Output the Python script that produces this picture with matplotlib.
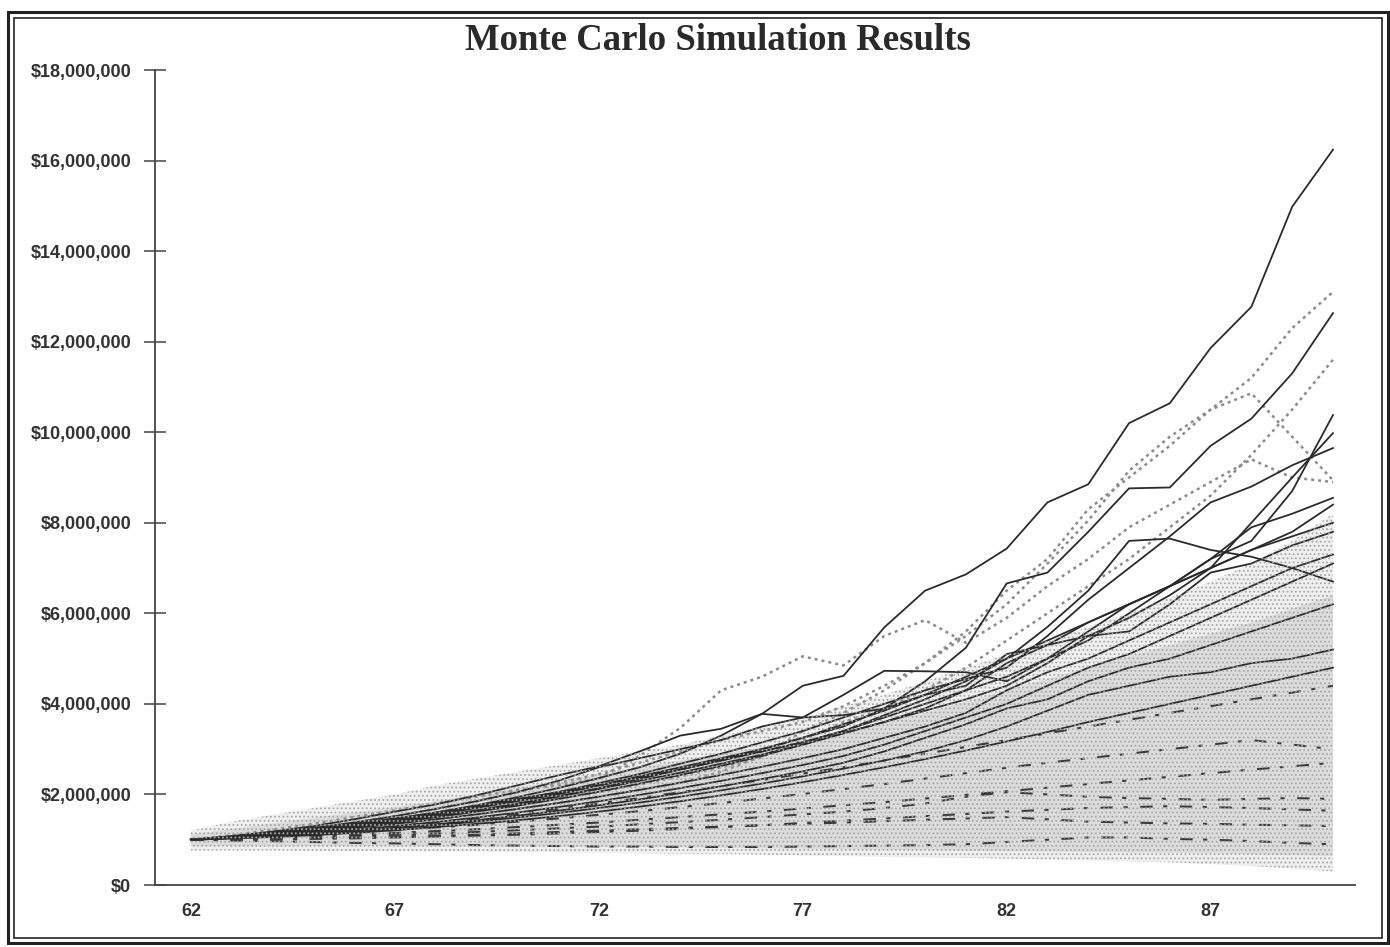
import matplotlib
matplotlib.use("Agg")
import matplotlib.pyplot as plt
from matplotlib.patches import Rectangle
from matplotlib.ticker import FuncFormatter

# ---------------- data (values in $ millions) ----------------
years = list(range(62, 91))

band_low  = [0.76,0.76,0.76,0.75,0.75,0.75,0.74,0.74,0.73,0.72,0.71,0.70,0.69,0.68,0.67,0.65,0.64,0.62,0.61,0.60,0.58,0.56,0.54,0.52,0.50,0.46,0.42,0.36,0.30]
band_high = [1.20,1.40,1.55,1.70,1.85,2.00,2.20,2.35,2.50,2.65,2.80,2.95,3.10,3.30,3.50,3.70,3.95,4.20,4.50,4.80,5.10,5.40,5.70,6.00,6.35,6.70,7.10,7.60,8.20]
core_low  = [0.86,0.86,0.86,0.86,0.86,0.86,0.85,0.85,0.85,0.85,0.84,0.84,0.83,0.82,0.81,0.80,0.79,0.78,0.77,0.76,0.75,0.74,0.73,0.72,0.71,0.70,0.68,0.66,0.64]
core_high = [1.12,1.24,1.36,1.48,1.60,1.72,1.85,2.00,2.15,2.30,2.45,2.60,2.75,2.90,3.05,3.20,3.40,3.60,3.80,4.05,4.30,4.55,4.80,5.05,5.30,5.55,5.80,6.10,6.40]

# solid dark simulation paths
sim_a = [1.00,1.08,1.18,1.30,1.45,1.62,1.78,1.98,2.20,2.42,2.62,2.95,3.30,3.45,3.78,4.40,4.62,5.69,6.50,6.86,7.43,8.45,8.85,10.20,10.64,11.86,12.77,14.98,16.24]
sim_c = [1.00,1.05,1.12,1.20,1.30,1.42,1.55,1.70,1.85,2.00,2.20,2.40,2.60,2.80,3.00,3.25,3.50,3.90,4.50,5.24,6.66,6.90,7.80,8.76,8.78,9.70,10.30,11.30,12.63]
sim_g = [1.00,1.06,1.13,1.22,1.32,1.44,1.57,1.72,1.88,2.05,2.25,2.45,2.68,2.90,3.15,3.40,3.70,4.00,4.30,4.55,4.80,5.50,6.30,7.00,7.70,8.45,8.80,9.27,9.65]
sim_f1 = [1.00,1.07,1.15,1.24,1.35,1.47,1.60,1.75,1.90,2.05,2.20,2.38,2.55,2.75,2.95,3.15,3.40,3.70,4.00,4.30,4.60,5.00,5.40,6.00,6.60,7.20,7.60,8.70,10.38]
sim_f2 = [1.00,1.05,1.11,1.18,1.27,1.38,1.50,1.63,1.78,1.95,2.12,2.30,2.48,2.68,2.88,3.10,3.35,3.60,3.85,4.10,4.40,4.90,5.50,5.90,6.40,7.00,8.00,9.00,9.98]
sim_h = [1.00,1.06,1.14,1.23,1.33,1.45,1.58,1.72,1.87,2.03,2.20,2.38,2.55,2.75,2.95,3.15,3.40,3.75,4.10,4.50,5.00,5.70,6.50,7.60,7.65,7.40,7.25,7.00,6.70]
sim_i = [1.00,1.07,1.16,1.26,1.38,1.52,1.68,1.85,2.05,2.30,2.60,2.80,3.00,3.20,3.50,3.70,4.20,4.73,4.72,4.70,4.50,5.00,5.60,6.20,6.60,7.00,7.40,7.80,8.40]
sim_j = [1.00,1.06,1.13,1.22,1.33,1.46,1.60,1.76,1.94,2.14,2.36,2.60,2.90,3.30,3.78,3.70,3.75,3.90,4.20,4.40,5.10,5.30,5.80,6.20,6.60,7.20,7.90,8.20,8.55]
sim_l = [1.00,1.05,1.11,1.18,1.26,1.35,1.45,1.56,1.68,1.81,1.95,2.10,2.26,2.43,2.61,2.80,3.00,3.25,3.50,3.80,4.30,4.70,5.00,5.40,5.80,6.20,6.60,7.00,7.30]
sim_m = [1.00,1.04,1.09,1.15,1.22,1.30,1.39,1.49,1.60,1.72,1.85,1.99,2.14,2.30,2.47,2.65,2.85,3.10,3.40,3.70,4.00,4.40,4.80,5.10,5.50,5.90,6.30,6.70,7.10]
sim_n = [1.00,1.04,1.08,1.13,1.19,1.26,1.34,1.43,1.53,1.64,1.76,1.89,2.03,2.18,2.34,2.51,2.70,2.95,3.25,3.55,3.90,4.10,4.50,4.80,5.00,5.30,5.60,5.90,6.20]
sim_o = [1.00,1.03,1.07,1.12,1.18,1.25,1.32,1.40,1.49,1.59,1.70,1.82,1.95,2.09,2.24,2.40,2.57,2.75,2.95,3.20,3.50,3.85,4.20,4.40,4.60,4.70,4.90,5.00,5.20]
sim_q = [1.00,1.03,1.06,1.10,1.15,1.21,1.28,1.35,1.43,1.52,1.62,1.73,1.85,1.98,2.12,2.27,2.43,2.60,2.78,2.97,3.17,3.38,3.60,3.80,4.00,4.20,4.40,4.60,4.80]
sim_s = [1.00,1.06,1.13,1.21,1.30,1.40,1.52,1.65,1.80,1.96,2.14,2.34,2.55,2.77,3.00,3.25,3.55,3.85,4.20,4.60,5.00,5.40,5.80,6.20,6.60,7.00,7.40,7.70,8.00]
sim_t = [1.00,1.05,1.12,1.20,1.29,1.39,1.50,1.62,1.75,1.90,2.06,2.24,2.43,2.63,2.85,3.10,3.35,3.60,3.90,4.30,4.90,5.30,5.50,5.60,6.20,6.90,7.10,7.50,7.80]

# paths inside the shaded mass (printed broken by the halftone)
sim_u  = [1.00,1.02,1.05,1.08,1.11,1.15,1.19,1.23,1.28,1.33,1.38,1.44,1.50,1.56,1.62,1.69,1.76,1.83,1.91,1.99,2.07,2.15,2.23,2.31,2.39,2.47,2.55,2.62,2.70]
sim_v  = [1.00,1.01,1.03,1.05,1.08,1.11,1.14,1.17,1.21,1.25,1.29,1.34,1.39,1.44,1.50,1.56,1.62,1.70,1.80,1.95,2.05,2.00,1.95,1.92,1.90,1.88,1.90,1.92,1.90]
sim_w  = [1.00,1.00,1.01,1.02,1.03,1.05,1.07,1.09,1.11,1.14,1.17,1.20,1.24,1.28,1.32,1.37,1.42,1.47,1.52,1.57,1.62,1.66,1.70,1.72,1.74,1.72,1.70,1.67,1.64]
sim_x  = [1.00,0.98,0.97,0.95,0.93,0.92,0.90,0.88,0.87,0.86,0.85,0.85,0.84,0.84,0.84,0.85,0.86,0.87,0.88,0.90,0.95,1.00,1.05,1.05,1.02,1.00,0.97,0.93,0.90]
sim_y  = [1.00,1.04,1.09,1.15,1.22,1.30,1.38,1.47,1.57,1.68,1.80,1.92,2.05,2.18,2.32,2.46,2.60,2.75,2.90,3.05,3.20,3.35,3.50,3.65,3.80,3.95,4.10,4.25,4.40]
sim_z  = [1.00,1.03,1.07,1.11,1.16,1.21,1.27,1.33,1.40,1.47,1.55,1.63,1.72,1.81,1.91,2.01,2.12,2.23,2.35,2.47,2.59,2.70,2.80,2.90,3.00,3.10,3.20,3.10,3.00]
sim_z2 = [1.00,1.01,1.02,1.03,1.05,1.07,1.09,1.11,1.14,1.17,1.20,1.23,1.26,1.29,1.32,1.35,1.38,1.41,1.44,1.47,1.50,1.45,1.40,1.38,1.36,1.35,1.33,1.32,1.30]

# light grey dotted paths
sim_b = [1.00,1.07,1.15,1.25,1.38,1.52,1.68,1.85,2.05,2.25,2.45,2.70,2.95,3.20,3.40,3.60,3.95,4.40,4.90,5.60,6.50,7.20,8.30,9.00,9.70,10.50,11.20,12.30,13.10]
sim_p = [1.00,1.10,1.22,1.35,1.50,1.65,1.80,1.95,2.10,2.20,2.35,2.85,3.47,4.30,4.60,5.05,4.85,5.50,5.85,5.35,5.90,6.60,7.20,7.90,8.40,8.90,9.40,9.00,8.90]
sim_d = [1.00,1.05,1.11,1.18,1.26,1.35,1.45,1.56,1.68,1.81,1.95,2.10,2.26,2.50,2.85,3.20,3.60,3.90,4.30,4.80,5.40,6.00,6.60,7.20,7.90,8.60,9.50,10.50,11.60]
sim_e = [1.00,1.06,1.13,1.21,1.30,1.40,1.51,1.63,1.76,1.90,2.05,2.22,2.40,2.60,2.82,3.40,3.80,4.30,4.90,5.50,6.20,7.10,8.05,9.15,9.90,10.50,10.86,9.90,8.94]

ytick_values = [0, 2, 4, 6, 8, 10, 12, 14, 16, 18]
xtick_values = [62, 67, 72, 77, 82, 87]

solid_paths = [sim_a, sim_c, sim_g, sim_f1, sim_f2, sim_h, sim_i, sim_j,
               sim_l, sim_m, sim_n, sim_o, sim_q, sim_s, sim_t]
inner_paths = [sim_u, sim_v, sim_w, sim_x, sim_y, sim_z, sim_z2]
dotted_paths = [sim_b, sim_p, sim_d, sim_e]

# ---------------- drawing ----------------
plt.rcParams['hatch.linewidth'] = 0.8
M = 1e6

fig = plt.figure(figsize=(13.9, 9.47), dpi=100)
ax = fig.add_axes([155/1390, 1 - 885/947, 1200/1390, 815/947])

scale = lambda arr: [v * M for v in arr]

ax.fill_between(years, scale(band_low), scale(band_high), facecolor='#efefef',
                edgecolor='none', zorder=1)
ax.fill_between(years, scale(core_low), scale(core_high), facecolor='#dcdcdc',
                edgecolor='none', zorder=1.2)

for arr in dotted_paths:
    ax.plot(years, scale(arr), color='#8c8c8c', lw=1.8,
            linestyle=(0, (1.2, 1.6)), zorder=2)
for arr in inner_paths:
    ax.plot(years, scale(arr), color='#3a3a3a', lw=1.5,
            linestyle=(0, (6, 5, 2, 6)), zorder=2.5)
for arr in solid_paths:
    ax.plot(years, scale(arr), color='#2b2b2b', lw=1.3, zorder=3)

# halftone screen printed over the simulated mass
ax.fill_between(years, scale(band_low), scale(band_high), facecolor='none',
                hatch='....', edgecolor='#a8a8a8', linewidth=0, zorder=3.5)

ax.set_xlim(61.12, 90.54)
ax.set_ylim(0, 18 * M)
ax.set_yticks([v * M for v in ytick_values])
ax.yaxis.set_major_formatter(FuncFormatter(lambda v, p: f"${v:,.0f}"))
ax.set_xticks(xtick_values)
ax.set_xticklabels([str(v) for v in xtick_values])

for s in ['top', 'right']:
    ax.spines[s].set_visible(False)
for s in ['left', 'bottom']:
    ax.spines[s].set_color('#444444')
    ax.spines[s].set_linewidth(1.3)

ax.tick_params(axis='y', direction='inout', length=16, width=1.1, color='#444444',
               pad=9, labelsize=13)
ax.tick_params(axis='x', length=0, pad=13, labelsize=13)
for lab in ax.get_xticklabels() + ax.get_yticklabels():
    lab.set_fontfamily('Liberation Sans')
    lab.set_fontweight('bold')
    lab.set_color('#333333')

fig.text(718/1390, 1 - 40/947, "Monte Carlo Simulation Results",
         ha='center', va='center', fontsize=26.5, fontweight='bold',
         family='Liberation Serif', color='#2a2a2a')

# double frame around the figure
fig.patches.append(Rectangle((8/1390, 4/947), 1380/1390, 931/947, transform=fig.transFigure,
                             fill=False, edgecolor='#222222', linewidth=2.2))
fig.patches.append(Rectangle((14/1390, 9/947), 1368/1390, 920/947, transform=fig.transFigure,
                             fill=False, edgecolor='#222222', linewidth=1.2))

fig.savefig("out.png", dpi=100, facecolor='white')
